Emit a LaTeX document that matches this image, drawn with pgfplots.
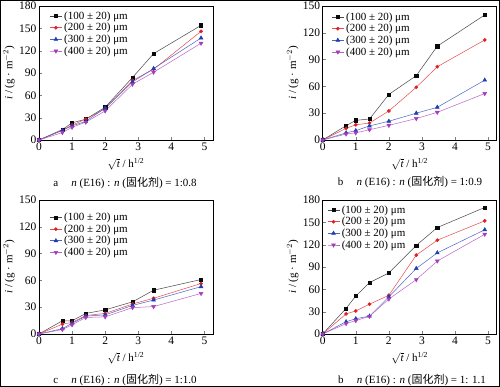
\documentclass[border=0pt]{standalone}
\usepackage{pgfplots}
\usepackage{pgfplotstable}
\pgfplotsset{compat=1.18}
\usepackage{fontspec}
\setmainfont{Liberation Serif}
\newfontfamily\cjk{Noto Sans CJK SC}

\definecolor{cK}{RGB}{10,10,10}
\definecolor{cR}{RGB}{225,30,35}
\definecolor{cB}{RGB}{30,60,180}
\definecolor{cP}{RGB}{165,60,185}

\pgfplotstableread{
x k r b p
0 0 0 0 0
0.707 14 13 13 10
1 23 20 19 17
1.414 28 28 25 24
2 44 42 43 39
2.828 84 80 78 75
3.464 116 95 96 91
4.899 154 146 137 130
}\tA
\pgfplotstableread{
x k r b p
0 0 0 0 0
0.707 16 13 8 6.7
1 22 17 10.5 8
1.414 23.5 19 15.7 11.5
2 51 32.5 21 16.4
2.828 72 59 30 24
3.464 105 82 36.6 31
4.899 140 112 67 52
}\tB
\pgfplotstableread{
x k r b p
0 0 0 0 0
0.707 14.8 11 6 5
1 14.8 13 12 10.3
1.414 23 20.7 20 18.5
2 27 23 21.4 19.2
2.828 36 33.6 32 29.5
3.464 49 40 38 30.7
4.899 61 56.5 53 45.4
}\tC
\pgfplotstableread{
x k r b p
0 0 0 0 0
0.707 34.4 27 16.5 14
1 51 31 20.5 18
1.414 69 40 24 23.7
2 82 52 50 47
2.828 119 106 88 73
3.464 143 126 109 98
4.899 170 152 140 134
}\tD

\pgfplotsset{
  panel/.style={
    scale only axis, width=174pt, height=134pt,
    anchor=south west,
    xmin=0, xmax=5.26, ymin=0,
    xtick={0,1,2,3,4,5},
    tick align=inside, xtick pos=left, ytick pos=left,
    major tick length=3pt,
    axis line style={line width=0.6pt},
    ticklabel style={font=\fontsize{11.5}{13}\selectfont},
    /pgf/number format/assume math mode=true,
    xticklabel style={yshift=1pt},
    yticklabel style={xshift=1pt},
    xlabel={$\sqrt{\textit{t}}$ / h\textsuperscript{1/2}},
    ylabel={\textit{i} / (g · m$^{-2}$)},
    xlabel style={font=\fontsize{11}{13}\selectfont, at={(axis description cs:0.5,-0.18)}, anchor=center},
    ylabel style={font=\fontsize{11}{13}\selectfont, at={(axis description cs:-0.172,0.5)}, anchor=center},
    legend style={draw=none, fill=none, inner sep=0pt, anchor=north west,
      font=\fontsize{11}{12.7}\selectfont, row sep=-1.5pt},
    legend cell align=left,
    legend image code/.code={\draw[mark repeat=2,mark phase=2] plot coordinates {(0pt,0pt) (6pt,0pt) (12pt,0pt)};},
  },
  sK/.style={color=cK!75, line width=0.5pt, mark=square*, mark size=1.6pt, mark options={fill=cK, draw=cK}},
  sR/.style={color=cR!80, line width=0.5pt, mark=*, mark size=1.6pt, mark options={fill=cR, draw=cR}},
  sB/.style={color=cB!80, line width=0.5pt, mark=triangle*, mark size=2.2pt, mark options={fill=cB, draw=cB}},
  sP/.style={color=cP!80, line width=0.5pt, mark=triangle*, mark size=2.2pt, mark options={fill=cP, draw=cP, rotate=180}},
}

\newcommand{\series}[1]{%
  \addplot[sK] table[x=x,y=k]{#1};
  \addplot[sR] table[x=x,y=r]{#1};
  \addplot[sB] table[x=x,y=b]{#1};
  \addplot[sP] table[x=x,y=p]{#1};
  \legend{(100 ± 20) μm,(200 ± 20) μm,(300 ± 20) μm,(400 ± 20) μm}
}

\begin{document}
\begin{tikzpicture}[x=1pt,y=1pt]
\useasboundingbox (0,0) rectangle (500,387);
\draw[line width=1pt, black] (0.5,0.5) rectangle (499.5,386.5);

\begin{axis}[panel, at={(39pt,247pt)}, ymax=180, ytick={0,30,...,180},
  legend style={at={(axis description cs:0.06,0.975)}}]
\series{\tA}
\end{axis}

\begin{axis}[panel, at={(322.7pt,247pt)}, ymax=150, ytick={0,30,...,150},
  legend style={at={(axis description cs:0.05,0.968)}}]
\series{\tB}
\end{axis}

\begin{axis}[panel, at={(39pt,53pt)}, ymax=150, ytick={0,30,...,150},
  legend style={at={(axis description cs:0.06,0.92)}}]
\series{\tC}
\end{axis}

\begin{axis}[panel, at={(322.7pt,53pt)}, ymax=180, ytick={0,30,...,180},
  legend style={at={(axis description cs:0.025,0.975)}}]
\series{\tD}
\end{axis}

\begin{scope}[every node/.style={font=\fontsize{11}{13}\selectfont}]
\node at (125,204) {a\hspace{1.2em}\textit{n} (E16) : \textit{n} ({\cjk 固化剂}) = 1:0.8};
\node at (410,205) {b\hspace{1.2em}\textit{n} (E16) : \textit{n} ({\cjk 固化剂}) = 1:0.9};
\node at (125,7) {c\hspace{1.2em}\textit{n} (E16) : \textit{n} ({\cjk 固化剂}) = 1:1.0};
\node at (412,7) {b\hspace{1.2em}\textit{n} (E16) : \textit{n} ({\cjk 固化剂}) = 1: 1.1};
\end{scope}
\end{tikzpicture}
\end{document}
